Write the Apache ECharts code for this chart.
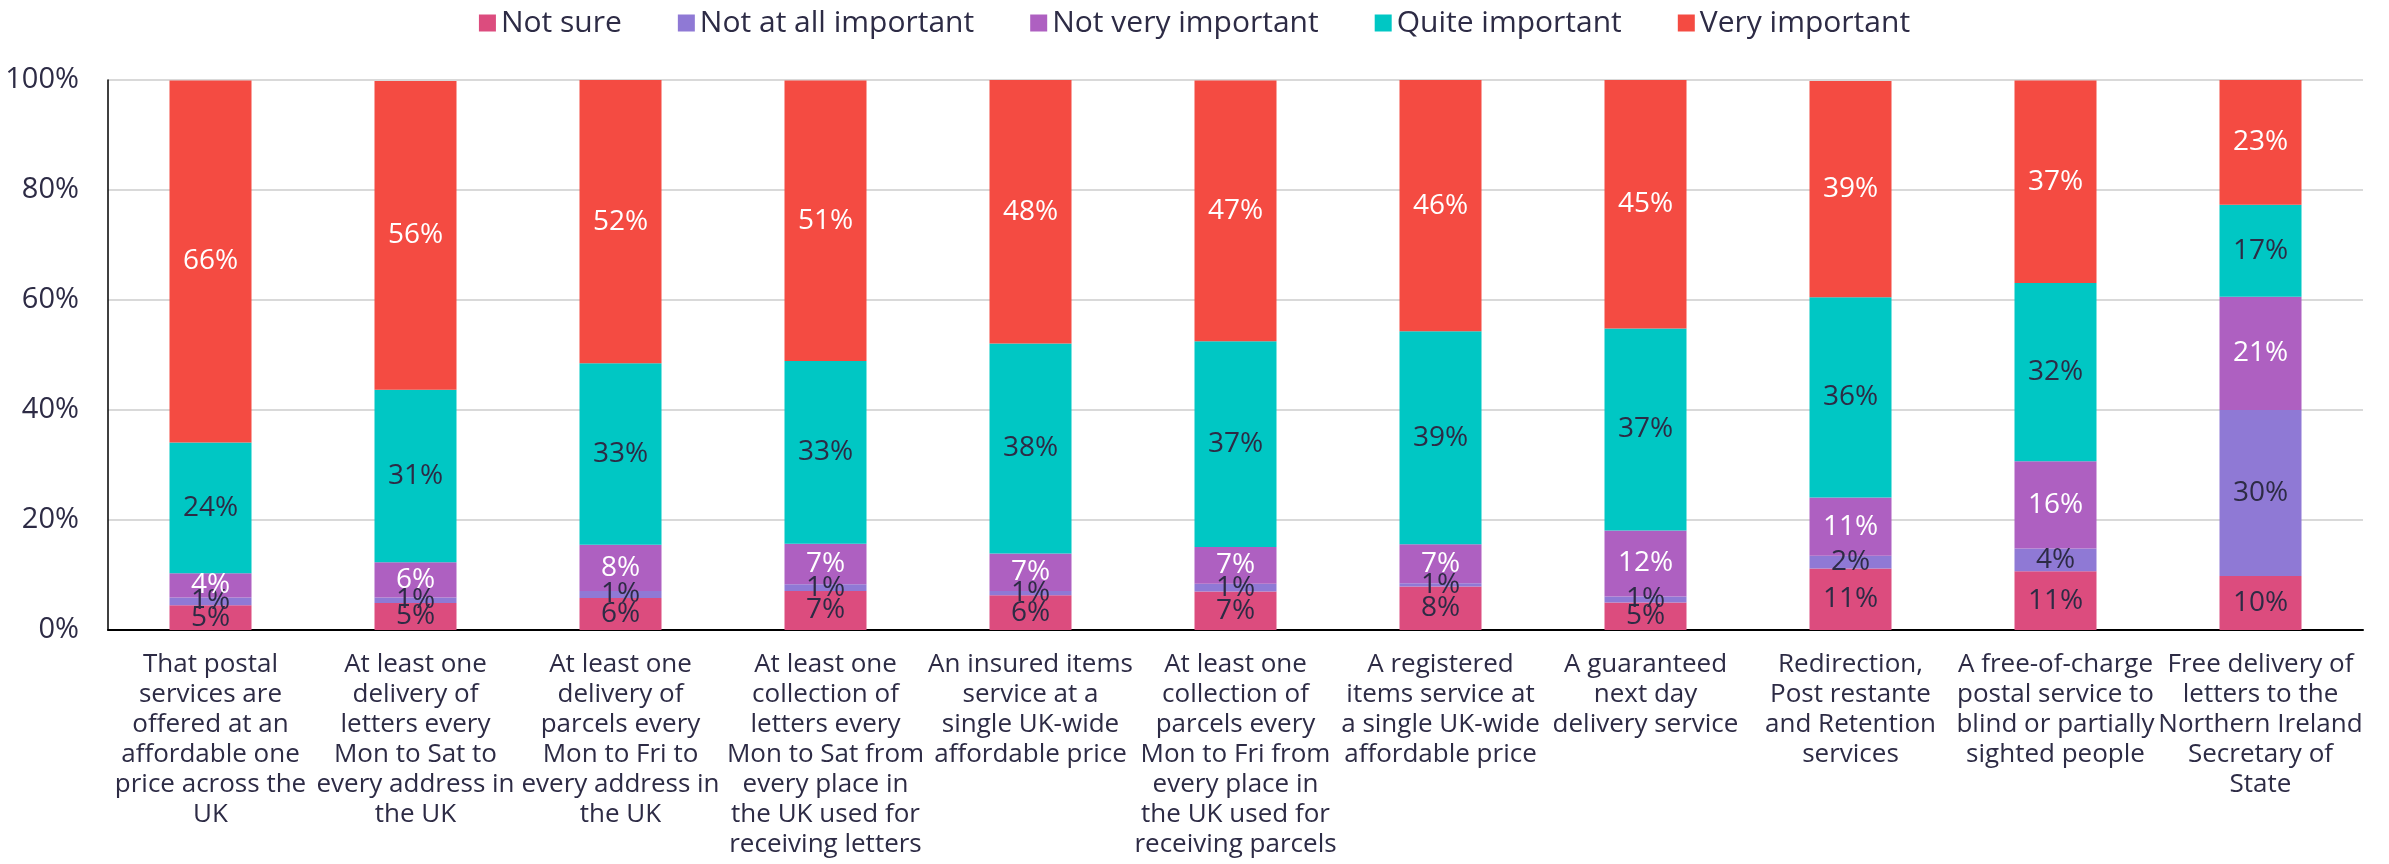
<!DOCTYPE html>
<html>
<head>
<meta charset="utf-8">
<script src="https://cdn.jsdelivr.net/npm/echarts@6/dist/echarts.min.js"></script>
<style>
  html, body { margin: 0; padding: 0; background: #fff; }
  #chart { width: 2389px; height: 864px; }
</style>
</head>
<body>
<div id="chart"></div>
<script>
// categories (line breaks as in the original)
var categories = [
  'That postal\nservices are\noffered at an\naffordable one\nprice across the\nUK',
  'At least one\ndelivery of\nletters every\nMon to Sat to\nevery address in\nthe UK',
  'At least one\ndelivery of\nparcels every\nMon to Fri to\nevery address in\nthe UK',
  'At least one\ncollection of\nletters every\nMon to Sat from\nevery place in\nthe UK used for\nreceiving letters',
  'An insured items\nservice at a\nsingle UK-wide\naffordable price',
  'At least one\ncollection of\nparcels every\nMon to Fri from\nevery place in\nthe UK used for\nreceiving parcels',
  'A registered\nitems service at\na single UK-wide\naffordable price',
  'A guaranteed\nnext day\ndelivery service',
  'Redirection,\nPost restante\nand Retention\nservices',
  'A free-of-charge\npostal service to\nblind or partially\nsighted people',
  'Free delivery of\nletters to the\nNorthern Ireland\nSecretary of\nState'
];

// series values (%)
var notSure = [4.5, 4.9, 5.8, 7.1, 6.3, 7.0, 7.9, 5.0, 11.2, 10.7, 9.8];
var notAtAll = [1.4, 1.0, 1.3, 1.2, 0.8, 1.4, 0.6, 1.1, 2.3, 4.1, 30.2];
var notVery = [4.4, 6.4, 8.4, 7.4, 6.8, 6.7, 7.1, 12.0, 10.6, 15.9, 20.6];
var quite = [23.8, 31.4, 33.0, 33.2, 38.2, 37.4, 38.7, 36.7, 36.4, 32.4, 16.7];
var very = [65.8, 56.1, 51.6, 51.0, 47.9, 47.4, 45.9, 45.2, 39.3, 36.8, 22.9];

var yTicks = { min: 0, max: 100, interval: 20 };

var FONT = 'Open Sans';
var TEXT = '#2d2b45';

// one stacked series
var makeSeries = (name, data, color, labelColor) => ({
  name,
  type: 'bar',
  stack: 'all',
  barWidth: '40%',
  data,
  itemStyle: { color },
  label: {
    show: true,
    position: 'inside',
    color: labelColor,
    fontFamily: FONT,
    fontSize: 28,
    formatter: p => Math.round(p.value) + '%'
  }
});

var chart = echarts.init(document.getElementById('chart'));

chart.setOption({
  animation: false,
  legend: {
    top: 3,
    left: 'center',
    itemWidth: 17,
    itemHeight: 17,
    itemGap: 56,
    icon: 'rect',
    textStyle: { fontFamily: FONT, fontSize: 30, color: TEXT }
  },
  grid: {
    left: 108,
    right: 26,
    top: 80,
    bottom: 234
  },
  xAxis: {
    type: 'category',
    data: categories,
    axisLine: { lineStyle: { color: '#000', width: 2 } },
    axisTick: { show: false },
    axisLabel: {
      interval: 0,
      margin: 20,
      fontFamily: FONT,
      fontSize: 26,
      lineHeight: 30,
      color: TEXT,
      align: 'center'
    }
  },
  yAxis: {
    type: 'value',
    min: yTicks.min,
    max: yTicks.max,
    interval: yTicks.interval,
    axisLine: { show: true, lineStyle: { color: '#000', width: 1.5 } },
    axisTick: { show: false },
    splitLine: { lineStyle: { color: '#d9d9d9', width: 2 } },
    axisLabel: {
      margin: 29,
      fontFamily: FONT,
      fontSize: 29,
      color: TEXT,
      formatter: '{value}%'
    }
  },
  series: [
    makeSeries('Not sure', notSure, '#dc4c7e', TEXT),
    makeSeries('Not at all important', notAtAll, '#8f79d5', TEXT),
    makeSeries('Not very important', notVery, '#ae60c1', '#fff'),
    makeSeries('Quite important', quite, '#00c7c4', TEXT),
    makeSeries('Very important', very, '#f44b42', '#fff')
  ]
});
</script>
</body>
</html>
